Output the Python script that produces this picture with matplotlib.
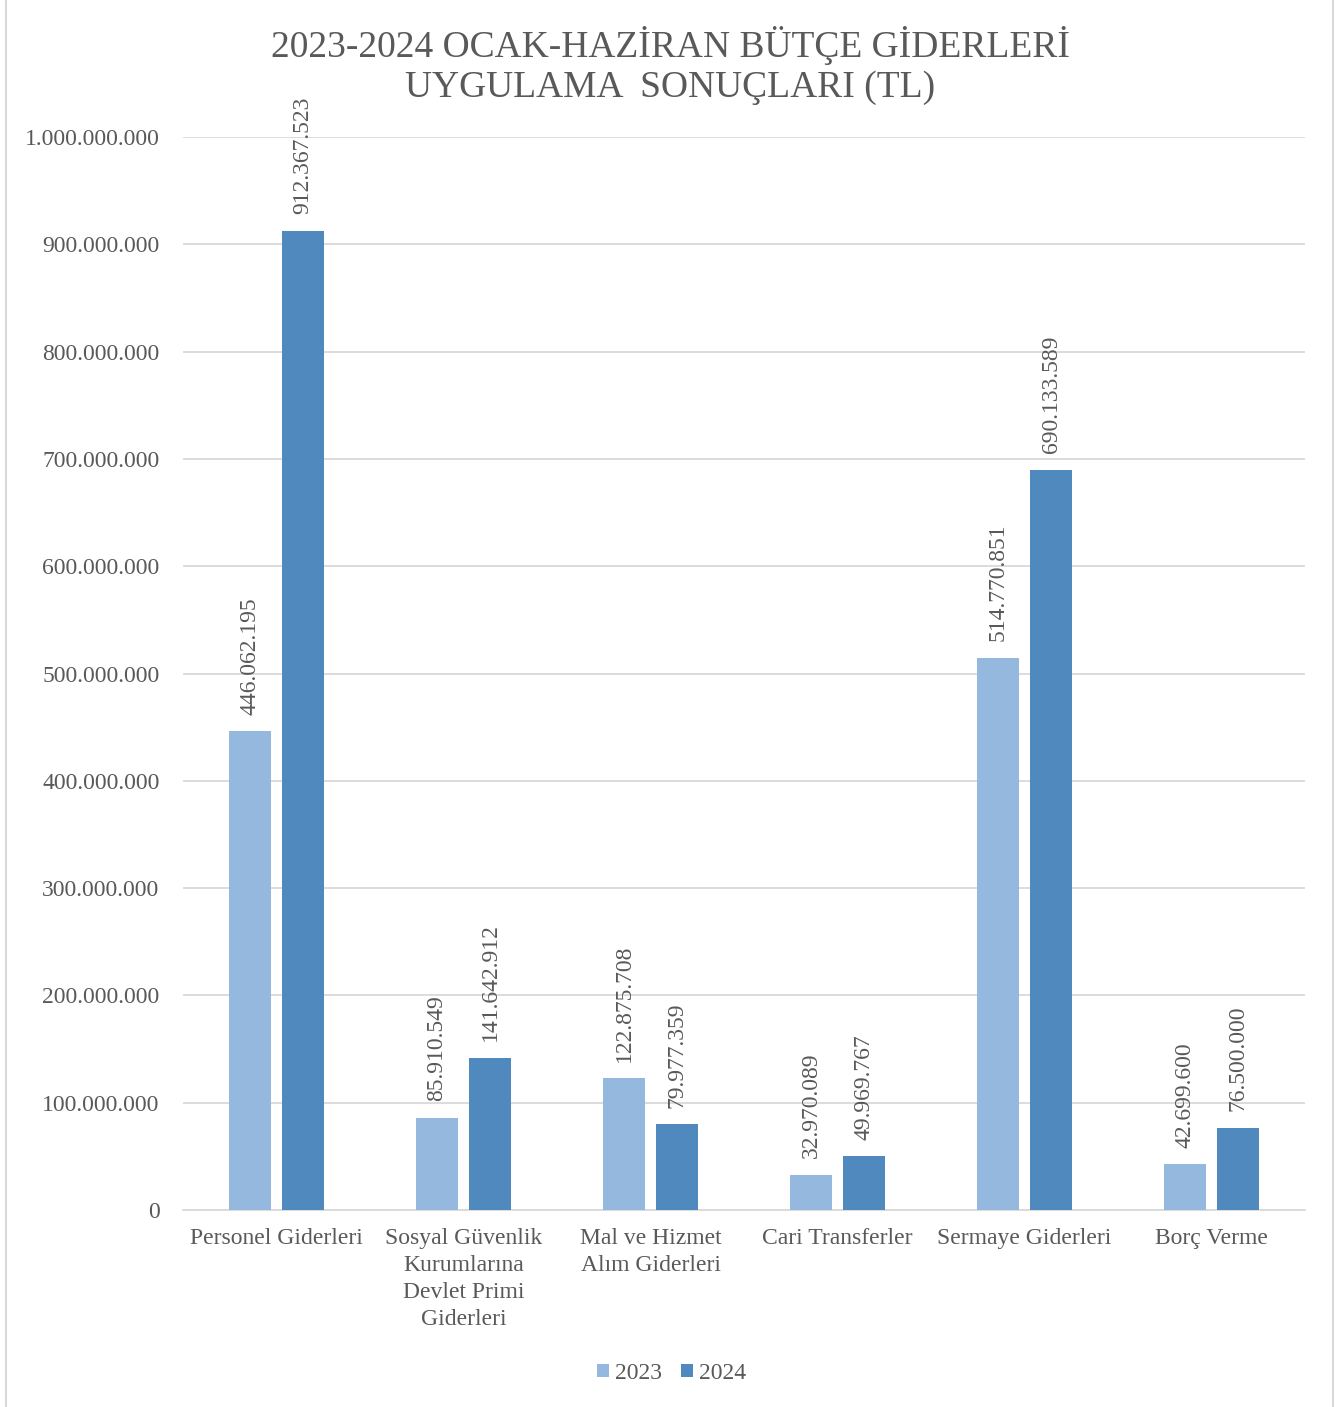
import numpy as np
import matplotlib.pyplot as plt
from matplotlib.lines import Line2D

# veriler
kategoriler = ["Personel Giderleri",
               "Sosyal Güvenlik\nKurumlarına\nDevlet Primi\nGiderleri",
               "Mal ve Hizmet\nAlım Giderleri",
               "Cari Transferler",
               "Sermaye Giderleri",
               "Borç Verme"]
yillar = ["2023", "2024"]
gider_2023 = [446062195, 85910549, 122875708, 32970089, 514770851, 42699600]
gider_2024 = [912367523, 141642912, 79977359, 49969767, 690133589, 76500000]
y_ticks = [0, 100000000, 200000000, 300000000, 400000000, 500000000,
           600000000, 700000000, 800000000, 900000000, 1000000000]

renk_2023 = "#95B8DF"
renk_2024 = "#4F89BD"
yazi = "#595959"
grid = "#D9D9D9"

plt.rcParams['font.family'] = ['Liberation Serif', 'DejaVu Serif']


def tl(v):
    return f"{v:,.0f}".replace(",", ".")


fig = plt.figure(figsize=(13.43, 14.07), dpi=100)
ax = fig.add_axes([0.1363, 0.1400, 0.8354, 0.7626])

x = np.arange(len(kategoriler))
w = 0.225
off = 0.142
b1 = ax.bar(x - off, gider_2023, w, color=renk_2023, label=yillar[0], zorder=3)
b2 = ax.bar(x + off, gider_2024, w, color=renk_2024, label=yillar[1], zorder=3)

for bars, vals in [(b1, gider_2023), (b2, gider_2024)]:
    for b, v in zip(bars, vals):
        ax.annotate(tl(v), (b.get_x() + b.get_width() / 2, v),
                    xytext=(0, 12), textcoords="offset points",
                    ha="center", va="bottom", rotation=90,
                    fontsize=17, color=yazi)

ax.set_xlim(-0.5, len(kategoriler) - 0.5)
ax.set_ylim(0, 1000000000)
ax.set_yticks(y_ticks)
ax.set_yticklabels([tl(v) for v in y_ticks])
ax.set_xticks(x)
ax.set_xticklabels(kategoriler, linespacing=1.38)
ax.tick_params(axis="both", length=0, labelsize=17, labelcolor=yazi)
ax.tick_params(axis="x", pad=13)
ax.tick_params(axis="y", pad=17)
ax.grid(axis="y", color=grid, linewidth=1.3, zorder=0)
for s in ["top", "right", "left"]:
    ax.spines[s].set_visible(False)
ax.spines["bottom"].set_color(grid)
ax.spines["bottom"].set_linewidth(1.3)

fig.text(0.499, 0.9535, "2023-2024 OCAK-HAZİRAN BÜTÇE GİDERLERİ\nUYGULAMA  SONUÇLARI (TL)",
         ha="center", va="center", fontsize=27, color=yazi, linespacing=1.2)

fig.legend(handles=[b1, b2], labels=yillar, loc="center", bbox_to_anchor=(0.5, 0.024),
           ncol=2, frameon=False, fontsize=17, labelcolor=yazi,
           handlelength=0.5, handleheight=0.5, handletextpad=0.25, columnspacing=0.8)

# cerceve cizgileri
fig.add_artist(Line2D([6 / 1343, 6 / 1343], [0, 1], color=grid, linewidth=1.5))
fig.add_artist(Line2D([1333 / 1343, 1333 / 1343], [0, 1], color=grid, linewidth=1.5))

fig.savefig("out.png", dpi=100)
